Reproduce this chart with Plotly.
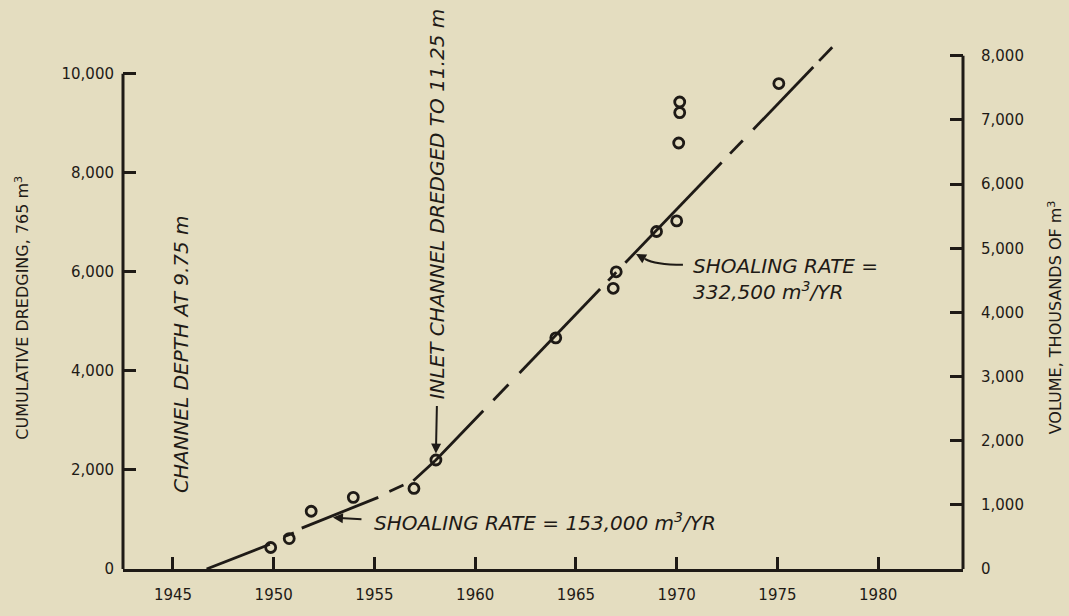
import plotly.graph_objects as go

# ---- data ----
years_obs = [1949.85, 1950.77, 1951.86, 1953.95, 1956.96, 1958.05,
             1964.0, 1966.85, 1967.0, 1969.0, 1970.0, 1970.1, 1970.15, 1970.15, 1975.07]
dredge_obs = [434, 614, 1166, 1446, 1626, 2200,
              4666, 5666, 6000, 6813, 7027, 8600, 9213, 9427, 9800]

# drawn pieces of the hand-fitted shoaling-rate line (gaps = dashes)
trend_years = [
    [1946.67, 1949.81],
    [1950.5, 1951.0],
    [1951.39, 1955.19],
    [1955.74, 1956.44],
    [1956.93, 1958.05, 1960.4],
    [1960.9, 1961.65],
    [1962.2, 1966.2],
    [1966.6, 1967.0],
    [1967.45, 1972.23],
    [1972.65, 1973.28],
    [1973.8, 1976.78],
    [1977.07, 1977.72],
]
trend_values = [
    [0, 500],
    [650, 730],
    [826, 1446],
    [1566, 1694],
    [1780, 2200, 3195],
    [3407, 3725],
    [3958, 5652],
    [5822, 5991],
    [6182, 8207],
    [8385, 8651],
    [8872, 10134],
    [10257, 10532],
]

x_ticks = [1945, 1950, 1955, 1960, 1965, 1970, 1975, 1980]
left_ticks = [0, 2000, 4000, 6000, 8000, 10000]
right_ticks = [0, 1000, 2000, 3000, 4000, 5000, 6000, 7000, 8000]

# ---- style ----
BG = "#E4DDC0"
INK = "#1E1A16"
X_RANGE = [1942.52, 1984.21]
Y_RANGE = [0, 10800]
Y2_RANGE = [0, 8340]

fig = go.Figure()

for xs, ys in zip(trend_years, trend_values):
    fig.add_trace(go.Scatter(x=xs, y=ys, mode="lines",
                             line=dict(color=INK, width=2.8),
                             showlegend=False, hoverinfo="skip"))

fig.add_trace(go.Scatter(x=years_obs, y=dredge_obs, mode="markers",
                         marker=dict(symbol="circle-open", size=10, color=INK,
                                     line=dict(width=2.8, color=INK)),
                         showlegend=False))

# invisible trace to activate right axis
fig.add_trace(go.Scatter(x=[X_RANGE[0]], y=[0], yaxis="y2", mode="markers",
                         marker=dict(opacity=0), showlegend=False, hoverinfo="skip"))

tickfont = dict(family="DejaVu Sans", size=15, color=INK)
ital = dict(family="DejaVu Sans", size=20, color=INK, style="italic")

fig.update_layout(
    width=1069, height=616,
    paper_bgcolor=BG, plot_bgcolor=BG,
    margin=dict(l=123, r=106, t=34, b=42),
    xaxis=dict(range=X_RANGE, tickvals=x_ticks, ticks="inside", ticklen=12,
               tickwidth=2.5, tickcolor=INK, showline=True, linewidth=3,
               linecolor=INK, showgrid=False, zeroline=False, tickfont=tickfont,
               ticklabelstandoff=10),
    yaxis=dict(range=Y_RANGE, tickvals=left_ticks, tickformat=",d",
               ticks="inside", ticklen=13, tickwidth=2.5, tickcolor=INK,
               showline=False, showgrid=False, zeroline=False,
               tickfont=tickfont, ticklabelstandoff=8),
    yaxis2=dict(range=Y2_RANGE, tickvals=right_ticks, tickformat=",d",
                overlaying="y", side="right", ticks="inside", ticklen=13,
                tickwidth=2.5, tickcolor=INK, showline=False, showgrid=False,
                zeroline=False, tickfont=tickfont, ticklabelstandoff=17),
)

# axis lines that stop at the top tick
fig.add_shape(type="line", xref="paper", yref="y", x0=0, x1=0, y0=0, y1=10000,
              line=dict(color=INK, width=3))
fig.add_shape(type="line", xref="paper", yref="y2", x0=1, x1=1, y0=0, y1=8000,
              line=dict(color=INK, width=3))

# curved leader for upper shoaling-rate label
fig.add_shape(type="path", xref="x", yref="y",
              path="M 1970.31,6140 Q 1968.92,6140 1968.42,6260",
              line=dict(color=INK, width=2))

# axis titles
fig.add_annotation(text="CUMULATIVE DREDGING, 765 m<sup>3</sup>", xref="paper", yref="y",
                   x=-0.12, y=5280, textangle=-90, showarrow=False,
                   font=dict(family="DejaVu Sans", size=16, color=INK),
                   xanchor="center", yanchor="middle")
fig.add_annotation(text="VOLUME, THOUSANDS OF m<sup>3</sup>", xref="paper", yref="y",
                   x=1.1095, y=5080, textangle=-90, showarrow=False,
                   font=dict(family="DejaVu Sans", size=16, color=INK),
                   xanchor="center", yanchor="middle")

# in-plot labels
fig.add_annotation(text="CHANNEL DEPTH AT 9.75 m", x=1945.4, y=4340, textangle=-90,
                   showarrow=False, font=ital, xanchor="center", yanchor="middle")
fig.add_annotation(text="INLET CHANNEL DREDGED TO 11.25 m", x=1958.1, y=7380,
                   textangle=-90, showarrow=False, font=ital,
                   xanchor="center", yanchor="middle")
fig.add_annotation(text="SHOALING RATE = 153,000 m<sup>3</sup>/YR", x=1954.88, y=940,
                   showarrow=False, font=ital, xanchor="left", yanchor="middle")
fig.add_annotation(text="SHOALING RATE =<br>332,500 m<sup>3</sup>/YR", x=1970.71, y=5860,
                   showarrow=False, font=ital, xanchor="left", yanchor="middle",
                   align="left")

# arrows
arrow = dict(showarrow=True, arrowhead=2, arrowsize=1, arrowwidth=2,
             arrowcolor=INK, axref="x", ayref="y", text="")
fig.add_annotation(x=1958.05, y=2330, ax=1958.1, ay=3320, **arrow)
fig.add_annotation(x=1952.94, y=1040, ax=1954.43, ay=1000, **arrow)
fig.add_annotation(x=1967.98, y=6360, ax=1968.42, ay=6260, **arrow)

fig.write_html("out.html",
               config={"displayModeBar": False},
               post_script="document.body.style.margin='0';"
                           "document.body.style.background='" + BG + "';"
                           "document.body.style.overflow='hidden';")
